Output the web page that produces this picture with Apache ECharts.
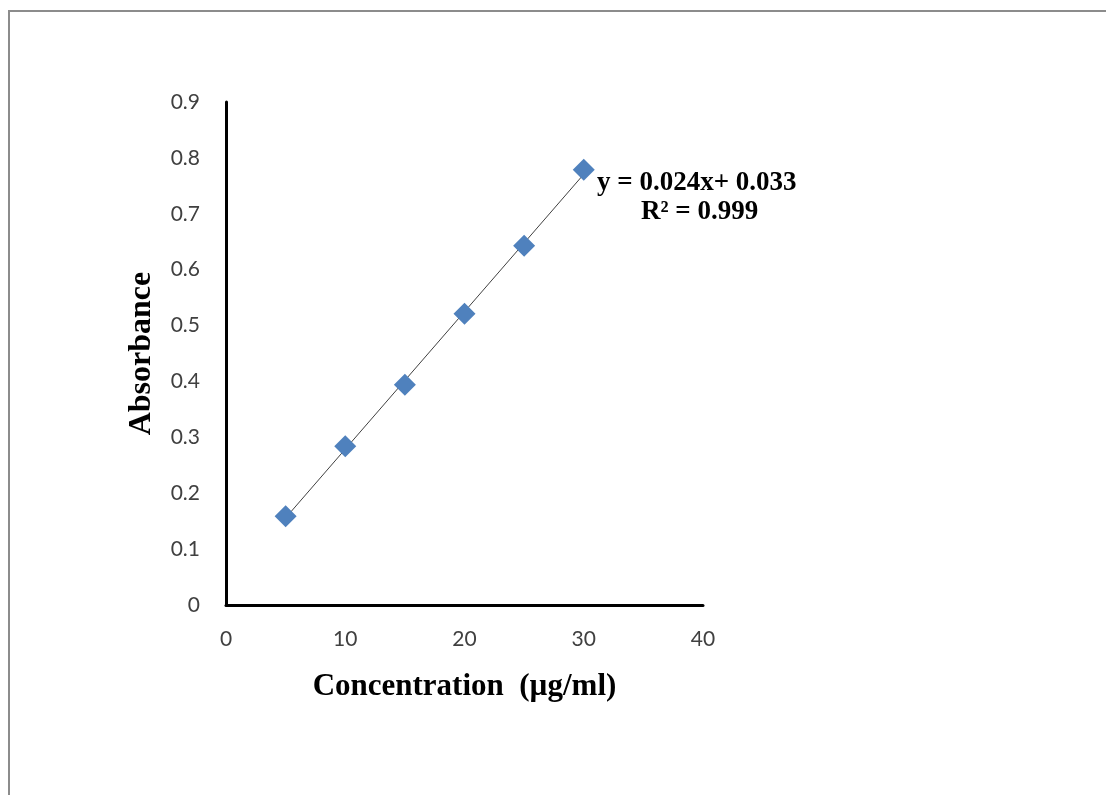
<!DOCTYPE html>
<html>
<head>
<meta charset="utf-8">
<script src="https://cdn.jsdelivr.net/npm/echarts@6/dist/echarts.min.js"></script>
<style>
  html, body { margin: 0; padding: 0; background: #fff; }
  #frame { position: absolute; left: 8px; top: 10px; width: 1098px; height: 785px;
           border-top: 2px solid #8c8c8c; border-left: 2px solid #8c8c8c; box-sizing: border-box; }
  #chart { position: absolute; left: 0; top: 0; width: 1106px; height: 795px; }
</style>
</head>
<body>
<div id="frame"></div>
<div id="chart"></div>
<script>
// 标准曲线数据
const concentration = [5, 10, 15, 20, 25, 30];
const absorbance = [0.159, 0.284, 0.394, 0.521, 0.643, 0.779];
const equationText = 'y = 0.024x+ 0.033';
const r2Text = 'R² = 0.999';

// 最小二乘拟合趋势线
function linearFit(xs, ys) {
    const n = xs.length;
    const mx = xs.reduce((s, v) => s + v, 0) / n;
    const my = ys.reduce((s, v) => s + v, 0) / n;
    let sxy = 0, sxx = 0;
    for (let i = 0; i < n; i++) {
        sxy += (xs[i] - mx) * (ys[i] - my);
        sxx += (xs[i] - mx) * (xs[i] - mx);
    }
    const k = sxy / sxx;
    return { k: k, b: my - k * mx };
}

const fit = linearFit(concentration, absorbance);
const xMin = Math.min(...concentration);
const xMax = Math.max(...concentration);
const trendData = [[xMin, fit.k * xMin + fit.b], [xMax, fit.k * xMax + fit.b]];
const pointData = concentration.map((x, i) => [x, absorbance[i]]);

const myChart = echarts.init(document.getElementById('chart'));

const tickFont = { color: '#404040', fontSize: 21, fontFamily: 'Lato, "Open Sans", sans-serif' };
const serif = '"Liberation Serif", "Times New Roman", serif';

const option = {
    backgroundColor: 'transparent',
    animation: false,
    grid: { left: 226, right: 403, top: 102, bottom: 190 },
    xAxis: {
        type: 'value',
        min: 0,
        max: 40,
        interval: 10,
        name: 'Concentration  (µg/ml)',
        nameLocation: 'middle',
        nameGap: 66,
        nameTextStyle: { color: '#000', fontSize: 31, fontWeight: 'bold', fontFamily: serif },
        axisLine: { lineStyle: { color: '#000', width: 3 } },
        axisTick: { show: false },
        splitLine: { show: false },
        axisLabel: Object.assign({ margin: 24 }, tickFont)
    },
    yAxis: {
        type: 'value',
        min: 0,
        max: 0.9,
        interval: 0.1,
        name: 'Absorbance',
        nameLocation: 'middle',
        nameGap: 68,
        nameTextStyle: { color: '#000', fontSize: 32, fontWeight: 'bold', fontFamily: serif },
        axisLine: { show: true, lineStyle: { color: '#000', width: 3 } },
        axisTick: { show: false },
        splitLine: { show: false },
        axisLabel: Object.assign({ margin: 26 }, tickFont)
    },
    series: [{
        name: '趋势线',
        type: 'line',
        data: trendData,
        symbol: 'none',
        lineStyle: { color: '#404040', width: 1 },
        z: 2
    }, {
        name: '吸光度',
        type: 'scatter',
        data: pointData,
        symbol: 'diamond',
        symbolSize: 22,
        itemStyle: { color: '#4F81BD', opacity: 1 },
        z: 3
    }],
    graphic: [{
        type: 'text',
        left: 597,
        top: 170,
        style: {
            text: equationText,
            fill: '#000',
            font: 'bold 27px ' + serif
        }
    }, {
        type: 'text',
        left: 641,
        top: 199,
        style: {
            text: r2Text,
            fill: '#000',
            font: 'bold 27px ' + serif
        }
    }]
};

myChart.setOption(option);
</script>
</body>
</html>
